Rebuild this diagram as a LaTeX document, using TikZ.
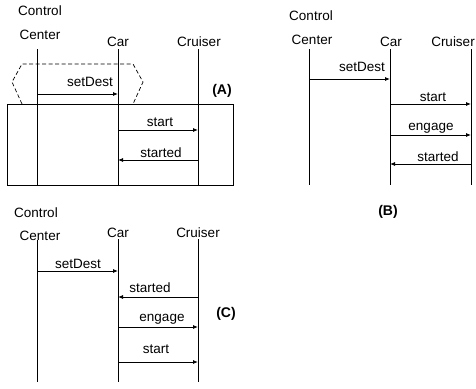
\documentclass[tikz,border=0pt]{standalone}
\usepackage{fontspec}
\setmainfont{Liberation Sans}
\usetikzlibrary{arrows.meta}
\tikzset{
  txt/.style={font=\fontsize{13.5}{15}\selectfont, inner sep=0pt, anchor=base},
  tag/.style={font=\fontsize{14}{16}\selectfont\bfseries, inner sep=0pt, anchor=base},
  life/.style={line width=0.8pt},
  msg/.style={line width=0.8pt, -{Latex[length=5pt,width=4pt]}},
  frame/.style={line width=0.9pt},
  opt/.style={line width=0.7pt, dash pattern=on 4pt off 2.5pt}
}
\begin{document}
\begin{tikzpicture}[x=1pt,y=-1pt]
\useasboundingbox (0,0) rectangle (476,388);

% ===================== (A) =====================
\node[txt] (ctrlA) at (40,16) {Control};
\node[txt] (centA) at (40,39) {Center};
\node[txt] (carA) at (118,46) {Car};
\node[txt] (cruA) at (199,46) {Cruiser};

\coordinate (ccAt) at (37,49);  \coordinate (ccAb) at (37,185);
\coordinate (caAt) at (118,49); \coordinate (caAb) at (118,185);
\coordinate (crAt) at (198,49); \coordinate (crAb) at (198,185);

% dashed hexagon (optional region)
\coordinate (h1) at (22,104); \coordinate (h2) at (12,82); \coordinate (h3) at (22,64);
\coordinate (h4) at (133,64); \coordinate (h5) at (143,82); \coordinate (h6) at (133,104);
\draw[opt] (h1) -- (h2) -- (h3) -- (h4) -- (h5) -- (h6);

% solid box
\coordinate (bA1) at (7,104); \coordinate (bA2) at (233,185);
\draw[frame] (bA1) rectangle (bA2);

\draw[life] (ccAt) -- (ccAb);
\draw[life] (caAt) -- (caAb);
\draw[life] (crAt) -- (crAb);

\coordinate (a1s) at (37,94);  \coordinate (a1e) at (118,94);
\coordinate (a2s) at (118,130); \coordinate (a2e) at (198,130);
\coordinate (a3s) at (198,160); \coordinate (a3e) at (118,160);
\draw[msg] (a1s) -- (a1e);
\draw[msg] (a2s) -- (a2e);
\draw[msg] (a3s) -- (a3e);
\node[txt] (la1) at (90,86) {setDest};
\node[txt] (la2) at (160,126) {start};
\node[txt] (la3) at (161,157) {started};
\node[tag] (tagA) at (222,94) {(A)};

% ===================== (B) =====================
\node[txt] (ctrlB) at (311,20) {Control};
\node[txt] (centB) at (312,44) {Center};
\node[txt] (carB) at (391,46) {Car};
\node[txt] (cruB) at (453,46) {Cruiser};

\coordinate (ccBt) at (309,49); \coordinate (ccBb) at (309,185);
\coordinate (caBt) at (390,49); \coordinate (caBb) at (390,185);
\coordinate (crBt) at (471,49); \coordinate (crBb) at (471,185);
\draw[life] (ccBt) -- (ccBb);
\draw[life] (caBt) -- (caBb);
\draw[life] (crBt) -- (crBb);

\coordinate (b1s) at (309,79);  \coordinate (b1e) at (390,79);
\coordinate (b2s) at (390,104); \coordinate (b2e) at (471,104);
\coordinate (b3s) at (390,135); \coordinate (b3e) at (471,135);
\coordinate (b4s) at (471,164); \coordinate (b4e) at (390,164);
\draw[msg] (b1s) -- (b1e);
\draw[msg] (b2s) -- (b2e);
\draw[msg] (b3s) -- (b3e);
\draw[msg] (b4s) -- (b4e);
\node[txt] (lb1) at (362,71) {setDest};
\node[txt] (lb2) at (433,101) {start};
\node[txt] (lb3) at (431,130) {engage};
\node[txt] (lb4) at (438,161) {started};
\node[tag] (tagB) at (388,215) {(B)};

% ===================== (C) =====================
\node[txt] (ctrlC) at (36,217) {Control};
\node[txt] (centC) at (40,240) {Center};
\node[txt] (carC) at (118,237) {Car};
\node[txt] (cruC) at (198,237) {Cruiser};

\coordinate (ccCt) at (37,240);  \coordinate (ccCb) at (37,382);
\coordinate (caCt) at (118,239); \coordinate (caCb) at (118,382);
\coordinate (crCt) at (198,239); \coordinate (crCb) at (198,382);
\draw[life] (ccCt) -- (ccCb);
\draw[life] (caCt) -- (caCb);
\draw[life] (crCt) -- (crCb);

\coordinate (c1s) at (37,271);  \coordinate (c1e) at (118,271);
\coordinate (c2s) at (198,297); \coordinate (c2e) at (118,297);
\coordinate (c3s) at (118,327); \coordinate (c3e) at (198,327);
\coordinate (c4s) at (118,362); \coordinate (c4e) at (198,362);
\draw[msg] (c1s) -- (c1e);
\draw[msg] (c2s) -- (c2e);
\draw[msg] (c3s) -- (c3e);
\draw[msg] (c4s) -- (c4e);
\node[txt] (lc1) at (78,268) {setDest};
\node[txt] (lc2) at (150,292) {started};
\node[txt] (lc3) at (162,321) {engage};
\node[txt] (lc4) at (156,353) {start};
\node[tag] (tagC) at (226,317) {(C)};
\end{tikzpicture}
\end{document}
